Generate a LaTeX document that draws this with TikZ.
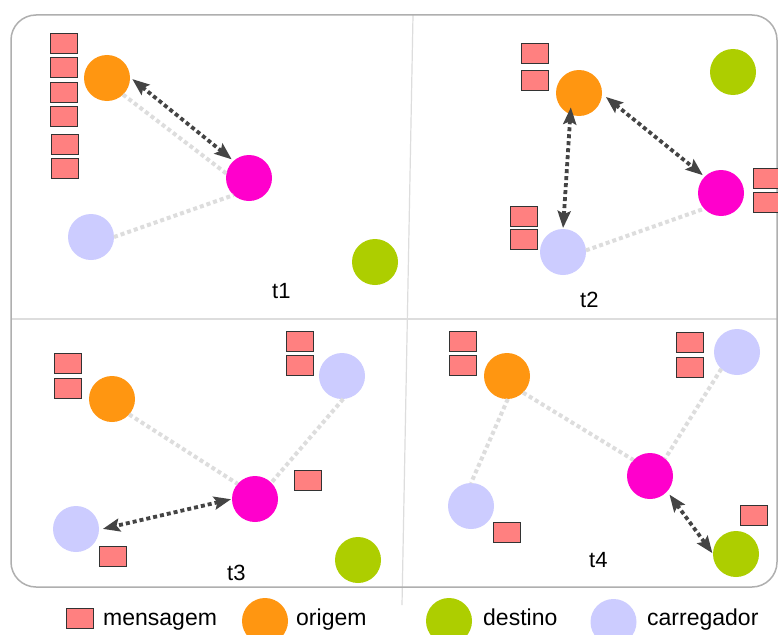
\documentclass[tikz,border=0pt]{standalone}
\usepackage{fontspec}
\setmainfont{Liberation Sans}
\usetikzlibrary{arrows.meta}
\definecolor{corig}{RGB}{255,150,17}
\definecolor{cmag}{RGB}{255,0,204}
\definecolor{clav}{RGB}{204,204,255}
\definecolor{cgreen}{RGB}{173,206,0}
\definecolor{cmsg}{RGB}{255,128,128}
\definecolor{cdark}{RGB}{68,68,68}
\definecolor{cgray}{RGB}{221,221,221}
\definecolor{cframe}{RGB}{175,175,175}
\tikzset{
  dot/.style={circle,minimum size=46pt,inner sep=0pt,outer sep=0pt},
  orig/.style={dot,fill=corig},
  carr/.style={dot,fill=clav},
  dest/.style={dot,fill=cgreen},
  relay/.style={dot,fill=cmag},
  msg/.style={rectangle,minimum width=27pt,minimum height=20pt,inner sep=0pt,fill=cmsg,draw=black!80,line width=0.9pt},
  gline/.style={draw=cgray,line width=4pt,dash pattern=on 4pt off 3pt},
  darr/.style={draw=cdark,line width=3.8pt,dash pattern=on 4pt off 3pt,{Stealth[length=17pt,width=13pt,inset=3pt]}-{Stealth[length=17pt,width=13pt,inset=3pt]}},
  tlabel/.style={anchor=base west,inner sep=0pt,font=\fontsize{22}{26}\selectfont},
  leg/.style={anchor=base west,inner sep=0pt,font=\fontsize{23}{27}\selectfont},
  grid/.style={draw=cgray,line width=1.2pt}
}
\begin{document}
\begin{tikzpicture}[x=1pt,y=-1pt]
\useasboundingbox (0,0) rectangle (778,634);
\clip (0,0) rectangle (778,634);
\fill[white] (0,0) rectangle (778,634);
% frame and grid
\draw[grid] (11,319) -- (777,319);
\draw[grid] (413,15) -- (402,605);
\draw[draw=cframe,line width=1.5pt,rounded corners=25pt] (11,15) rectangle (777,587);

% ---------- t1 ----------
\node[msg] (a1) at (63.5,43) {};
\node[msg] (a2) at (63.5,67) {};
\node[msg] (a3) at (63.5,92) {};
\node[msg] (a4) at (63.5,116) {};
\node[msg] (a5) at (64.5,144) {};
\node[msg] (a6) at (64.5,168) {};
\node[orig] (o1) at (107,78) {};
\node[relay] (m1) at (249,178) {};
\node[carr] (l1) at (91,237) {};
\node[dest] (g1) at (375,262) {};
\node[tlabel] (t1) at (272,298) {t1};
\draw[gline] (o1.-46) -- (m1.169);
\draw[gline] (l1.0) -- (m1.228);
\draw[darr,shorten <=3pt,shorten >=2.5pt] (o1.2) -- (m1.132);

% ---------- t2 ----------
\node[msg] (b1) at (535,53) {};
\node[msg] (b2) at (535,80.5) {};
\node[msg] (b3) at (766.5,178) {};
\node[msg] (b4) at (766.5,202) {};
\node[msg] (b5) at (523.5,216) {};
\node[msg] (b6) at (523.5,239) {};
\node[orig] (o2) at (579,93) {};
\node[relay] (m2) at (721,193) {};
\node[carr] (l2) at (563,252) {};
\node[dest] (g2) at (733,72) {};
\node[tlabel] (t2) at (580,307) {t2};
\draw[gline] (l2.4) -- (m2.223);
\draw[darr,shorten <=5pt,shorten >=2.5pt] (o2.-2) -- (m2.135);
\draw[darr,shorten <=-7pt,shorten >=1pt] (o2.248) -- (l2.90);

% ---------- t3 ----------
\node[msg] (c1) at (67.5,363.5) {};
\node[msg] (c2) at (67.5,388) {};
\node[msg] (c3) at (299.5,341) {};
\node[msg] (c4) at (299.5,365) {};
\node[msg] (c5) at (308,480.5) {};
\node[msg] (c6) at (112.5,556) {};
\node[orig] (o3) at (112,399) {};
\node[carr] (lt3) at (342,376) {};
\node[relay] (m3) at (255,499) {};
\node[carr] (lb3) at (76,529) {};
\node[dest] (g3) at (358,560) {};
\node[tlabel] (t3) at (227,580) {t3};
\draw[gline] (o3.-42) -- (m3.139);
\draw[gline] (lt3.-87) -- (m3.45);
\draw[darr,shorten <=1pt,shorten >=4pt] (m3.180) -- (lb3.-2);

% ---------- t4 ----------
\node[msg] (d1) at (462.5,341) {};
\node[msg] (d2) at (462.5,365) {};
\node[msg] (d3) at (689.5,342) {};
\node[msg] (d4) at (689.5,367) {};
\node[msg] (d5) at (507,532.5) {};
\node[msg] (d6) at (754,515) {};
\node[orig] (o4) at (507,376) {};
\node[carr] (lt4) at (737,352) {};
\node[relay] (m4) at (650,476) {};
\node[carr] (lb4) at (471,506) {};
\node[dest] (g4) at (736,554) {};
\node[tlabel] (t4) at (589,567) {t4};
\draw[gline] (o4.-46) -- (m4.136);
\draw[gline] (o4.-88) -- (lb4.90);
\draw[gline] (lt4.227) -- (m4.49);
\draw[darr,shorten <=4pt,shorten >=1pt] (m4.-42) -- (g4.180);

% ---------- legend ----------
\node[msg] (km) at (80,618.5) {};
\node[leg] (kmt) at (103,625) {mensagem};
\node[orig] (ko) at (265,621) {};
\node[leg] (kot) at (296,625) {origem};
\node[dest] (kg) at (449,621) {};
\node[leg] (kgt) at (483,625) {destino};
\node[carr] (kl) at (613.5,622) {};
\node[leg] (klt) at (647,625) {carregador};
\end{tikzpicture}
\end{document}
